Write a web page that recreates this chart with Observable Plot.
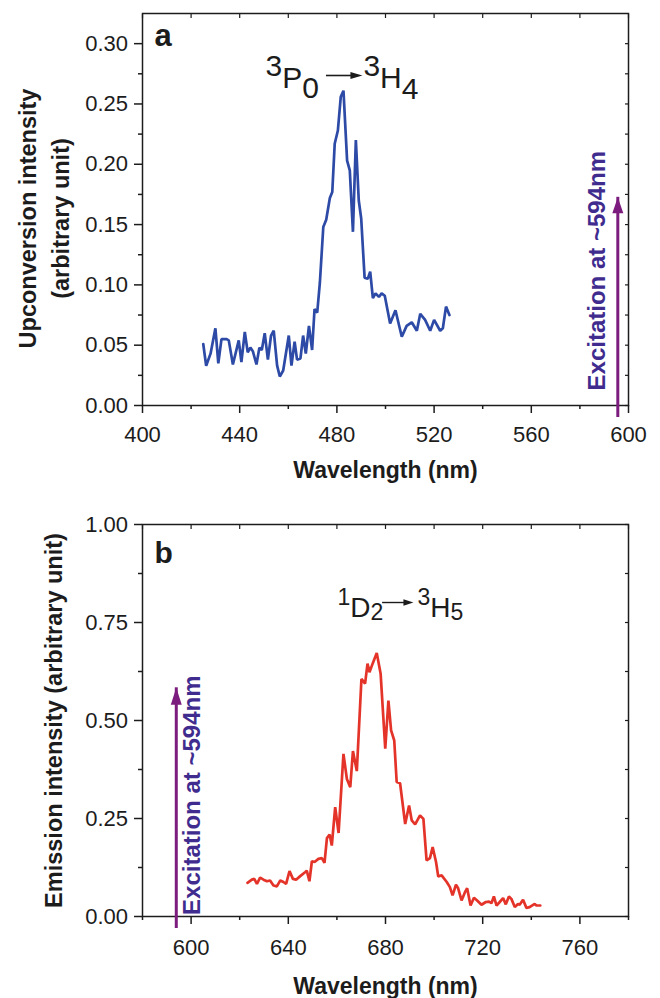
<!DOCTYPE html>
<html><head><meta charset="utf-8">
<script src="https://cdn.jsdelivr.net/npm/d3@7"></script>
<script src="https://cdn.jsdelivr.net/npm/@observablehq/plot@0.6"></script>
<style>
body{margin:0;background:#fff}
#chart{width:660px}
#chart svg{display:block}
</style>
</head><body><div id="chart"></div>
<script>
// ---------- Panel a: upconversion spectrum ----------
const wavelengthA = [425.0,426.2,428.0,430.0,431.2,432.5,434.6,435.5,437.2,439.6,440.7,442.1,443.3,444.4,445.4,446.9,448.1,449.1,450.3,451.6,452.9,454.0,455.4,456.5,457.9,460.2,461.3,462.6,463.6,465.0,466.1,467.2,468.5,469.8,470.8,471.9,473.0,474.4,475.6,477.1,478.1,479.1,480.4,481.6,482.7,484.2,485.3,486.6,487.8,489.0,490.0,491.4,492.7,493.7,494.8,495.9,497.3,498.4,499.7,501.9,504.1,506.7,508.7,510.8,512.9,514.3,516.3,518.4,520.0,522.5,523.6,524.9,526.3];
const intensityA = [0.051,0.033,0.043,0.064,0.035,0.055,0.055,0.054,0.034,0.054,0.036,0.061,0.044,0.048,0.045,0.034,0.048,0.046,0.060,0.038,0.058,0.062,0.033,0.024,0.029,0.058,0.033,0.053,0.038,0.039,0.058,0.043,0.066,0.046,0.080,0.077,0.102,0.148,0.154,0.172,0.177,0.217,0.228,0.256,0.261,0.203,0.195,0.144,0.220,0.170,0.155,0.106,0.105,0.111,0.089,0.093,0.090,0.093,0.091,0.068,0.079,0.057,0.066,0.069,0.062,0.076,0.071,0.062,0.071,0.062,0.064,0.082,0.075];
const xLabelTicksA = [400,440,480,520,560,600];
const xMinorTicksA = [420,460,500,540,580];
const yLabelTicksA = [0,0.05,0.10,0.15,0.20,0.25,0.30];
const yMinorTicksA = [0.025,0.075,0.125,0.175,0.225,0.275];
const excitationA = [{x:595.6, y:0.1726}];

// ---------- Panel b: emission spectrum ----------
const wavelengthB = [623.2,625.0,626.0,627.1,628.4,629.8,631.2,632.5,633.9,635.3,636.7,638.0,639.1,640.5,641.9,643.2,644.9,646.9,647.6,648.7,649.7,650.8,652.4,653.8,654.9,655.9,657.0,657.9,659.3,660.7,662.7,664.1,665.5,666.6,668.2,670.1,671.6,672.6,673.4,674.7,676.4,678.0,679.9,681.2,682.3,683.6,684.6,686.0,688.1,689.7,690.8,692.2,694.2,695.6,696.9,698.3,699.4,700.8,701.7,703.1,705.2,706.5,707.6,709.0,709.9,711.3,712.7,713.6,715.0,716.4,717.7,719.5,721.3,722.6,723.6,724.6,725.7,727.0,728.4,729.5,730.8,731.8,733.2,734.5,735.2,736.6,738.0,739.3,741.4,742.1,743.7];
const intensityB = [0.086,0.094,0.096,0.083,0.099,0.094,0.090,0.092,0.079,0.077,0.092,0.088,0.083,0.116,0.096,0.094,0.103,0.113,0.117,0.090,0.141,0.139,0.147,0.149,0.137,0.200,0.209,0.181,0.279,0.213,0.415,0.351,0.330,0.422,0.371,0.606,0.594,0.645,0.623,0.645,0.672,0.619,0.428,0.551,0.475,0.449,0.343,0.340,0.236,0.283,0.245,0.235,0.258,0.249,0.143,0.149,0.177,0.139,0.102,0.105,0.088,0.075,0.054,0.081,0.072,0.041,0.062,0.072,0.028,0.048,0.041,0.030,0.037,0.038,0.034,0.051,0.028,0.037,0.047,0.031,0.051,0.045,0.024,0.032,0.030,0.043,0.022,0.024,0.032,0.028,0.028];
const xLabelTicksB = [600,640,680,720,760];
const xMinorTicksB = [580,620,660,700,740,780];
const yLabelTicksB = [0,0.25,0.50,0.75,1.00];
const yMinorTicksB = [0.125,0.375,0.625,0.875];
const excitationB = [{x:593.9, y:0.5834}];

// ---------- text ----------
const xTitle = "Wavelength (nm)";
const yTitleA = "Upconversion intensity\n(arbitrary unit)";
const yTitleB = "Emission intensity (arbitrary unit)";
const excitationText = "Excitation at ~594nm";

const FONT = "'Liberation Sans', Arial, Helvetica, sans-serif";
const INK = "#1c1c1c";
const BLUE = "#2c4aa6";
const RED = "#e4342a";
const PURPLE = "#7c1c7e";
const INDIGO = "#3f2c8e";

const dataA = wavelengthA.map((w, i) => ({w, v: intensityA[i]}));
const dataB = wavelengthB.map((w, i) => ({w, v: intensityB[i]}));
const blank = () => "";

function frameMarks(xLab, xMin, yLab, yMin, yFmt, tickPadX) {
  const xAll = [...xLab, ...xMin].sort((a,b)=>a-b);
  const yAll = [...yLab, ...yMin].sort((a,b)=>a-b);
  return [
    Plot.frame({stroke: INK, strokeWidth: 1.5}),
    Plot.axisX(xLab, {anchor: "bottom", tickSize: 8, tickPadding: tickPadX, fontSize: 22, label: null, strokeWidth: 1.5, tickFormat: d => String(d)}),
    Plot.axisX(xMin, {anchor: "bottom", tickSize: 4, tickFormat: blank, label: null, strokeWidth: 1.5}),
    Plot.axisX(xAll, {anchor: "top", tickSize: -4, tickFormat: blank, label: null, strokeWidth: 1.2}),
    Plot.axisY(yLab, {anchor: "left", tickSize: 8, tickPadding: 6.5, fontSize: 22, label: null, strokeWidth: 1.5, tickFormat: yFmt}),
    Plot.axisY(yMin, {anchor: "left", tickSize: 4, tickFormat: blank, label: null, strokeWidth: 1.5}),
    Plot.axisY(yAll, {anchor: "right", tickSize: -4, tickFormat: blank, label: null, strokeWidth: 1.2})
  ];
}

// rebuild a plain text label as baseline-shifted pieces (super/subscripts)
function scriptText(svg, content, parts) {
  const t = d3.select(svg).selectAll("text").filter(function() { return this.textContent === content; });
  t.text(null);
  let prev = 0;
  for (const [s, off, size] of parts) {
    t.append("tspan").attr("dy", off - prev).attr("font-size", size).text(s);
    prev = off;
  }
}

// ---------- Panel a ----------
const svgA = Plot.plot({
  width: 660, height: 490,
  marginTop: 13, marginBottom: 85, marginLeft: 142, marginRight: 32,
  style: {fontFamily: FONT, background: "white", color: INK, overflow: "visible"},
  x: {domain: [400, 600]},
  y: {domain: [0, 0.325]},
  marks: [
    ...frameMarks(xLabelTicksA, xMinorTicksA, yLabelTicksA, yMinorTicksA, d3.format(".2f"), 12.4),
    Plot.line(dataA, {x: "w", y: "v", stroke: BLUE, strokeWidth: 2.7, strokeLinejoin: "miter"}),
    Plot.ruleX(excitationA, {x: "x", y1: 0, y2: "y", stroke: PURPLE, strokeWidth: 3, insetTop: 12}),
    Plot.vector(excitationA, {x: "x", y: "y", length: 16, rotate: 0, anchor: "end", shape: "spike", r: 5.5, fill: PURPLE, stroke: "none"}),
    Plot.text([{x: 590.5, y: 0.0125}], {x: "x", y: "y", text: () => excitationText, rotate: -90, textAnchor: "start", lineAnchor: "bottom", fontSize: 24, fontWeight: "bold", fill: INDIGO}),
    Plot.text(["a"], {text: d => d, frameAnchor: "top-left", dx: 12, dy: 32, lineAnchor: "bottom", textAnchor: "start", fontSize: 31, fontWeight: "bold"}),
    Plot.text([{x: 450.6, y: 0.2636}], {x: "x", y: "y", text: () => "3P0", textAnchor: "start", lineAnchor: "bottom", fontSize: 30}),
    Plot.text([{x: 490.9, y: 0.2636}], {x: "x", y: "y", text: () => "3H4", textAnchor: "start", lineAnchor: "bottom", fontSize: 30}),
    Plot.ruleY([{y: 0.2736, x1: 475.7, x2: 486}], {y: "y", x1: "x1", x2: "x2", stroke: INK, strokeWidth: 1.6}),
    Plot.vector([{x: 490.5, y: 0.2736}], {x: "x", y: "y", length: 12, rotate: 90, anchor: "end", shape: "spike", r: 3.6, fill: INK, stroke: "none"}),
    Plot.text([xTitle], {text: d => d, frameAnchor: "bottom", dy: 65.5, textAnchor: "middle", lineAnchor: "middle", fontSize: 23, fontWeight: "bold"}),
    Plot.text([yTitleA], {text: d => d, frameAnchor: "left", rotate: -90, dx: -100.8, dy: 9, textAnchor: "middle", lineAnchor: "middle", lineHeight: 1.43, fontSize: 23.5, fontWeight: "bold"})
  ]
});
scriptText(svgA, "3P0", [["3", -12, 30], ["P", 0, 30], ["0", 10, 30]]);
scriptText(svgA, "3H4", [["3", -12, 30], ["H", 0, 30], ["4", 11, 30]]);

// ---------- Panel b ----------
const svgB = Plot.plot({
  width: 660, height: 508,
  marginTop: 34, marginBottom: 82, marginLeft: 142, marginRight: 32,
  style: {fontFamily: FONT, background: "white", color: INK, overflow: "visible"},
  x: {domain: [580, 780]},
  y: {domain: [0, 1]},
  marks: [
    ...frameMarks(xLabelTicksB, xMinorTicksB, yLabelTicksB, yMinorTicksB, d3.format(".2f"), 14.4),
    Plot.line(dataB, {x: "w", y: "v", stroke: RED, strokeWidth: 2.7, strokeLinejoin: "miter"}),
    Plot.ruleX(excitationB, {x: "x", y1: 0, y2: "y", stroke: PURPLE, strokeWidth: 3, insetTop: 12}),
    Plot.vector(excitationB, {x: "x", y: "y", length: 17, rotate: 0, anchor: "end", shape: "spike", r: 5.5, fill: PURPLE, stroke: "none"}),
    Plot.text([{x: 603.8, y: 0.004}], {x: "x", y: "y", text: () => excitationText, rotate: -90, textAnchor: "start", lineAnchor: "bottom", fontSize: 24, fontWeight: "bold", fill: INDIGO}),
    Plot.text(["b"], {text: d => d, frameAnchor: "top-left", dx: 12, dy: 38, lineAnchor: "bottom", textAnchor: "start", fontSize: 30, fontWeight: "bold"}),
    Plot.text([{x: 660.2, y: 0.7628}], {x: "x", y: "y", text: () => "1D2", textAnchor: "start", lineAnchor: "bottom", fontSize: 28}),
    Plot.text([{x: 693.2, y: 0.7628}], {x: "x", y: "y", text: () => "3H5", textAnchor: "start", lineAnchor: "bottom", fontSize: 28}),
    Plot.ruleY([{y: 0.801, x1: 678.8, x2: 688}], {y: "y", x1: "x1", x2: "x2", stroke: INK, strokeWidth: 1.4}),
    Plot.vector([{x: 691.5, y: 0.801}], {x: "x", y: "y", length: 10, rotate: 90, anchor: "end", shape: "spike", r: 3.2, fill: INK, stroke: "none"}),
    Plot.text([xTitle], {text: d => d, frameAnchor: "bottom", dy: 70, textAnchor: "middle", lineAnchor: "middle", fontSize: 23, fontWeight: "bold"}),
    Plot.text([yTitleB], {text: d => d, frameAnchor: "left", rotate: -90, dx: -88, textAnchor: "middle", lineAnchor: "middle", fontSize: 23.5, fontWeight: "bold"})
  ]
});
scriptText(svgB, "1D2", [["1", -12, 23], ["D", 0, 28], ["2", 3, 23]]);
scriptText(svgB, "3H5", [["3", -12, 23], ["H", 0, 28], ["5", 3, 23]]);

const chart = document.getElementById("chart");
chart.append(svgA, svgB);
</script>
</body></html>
